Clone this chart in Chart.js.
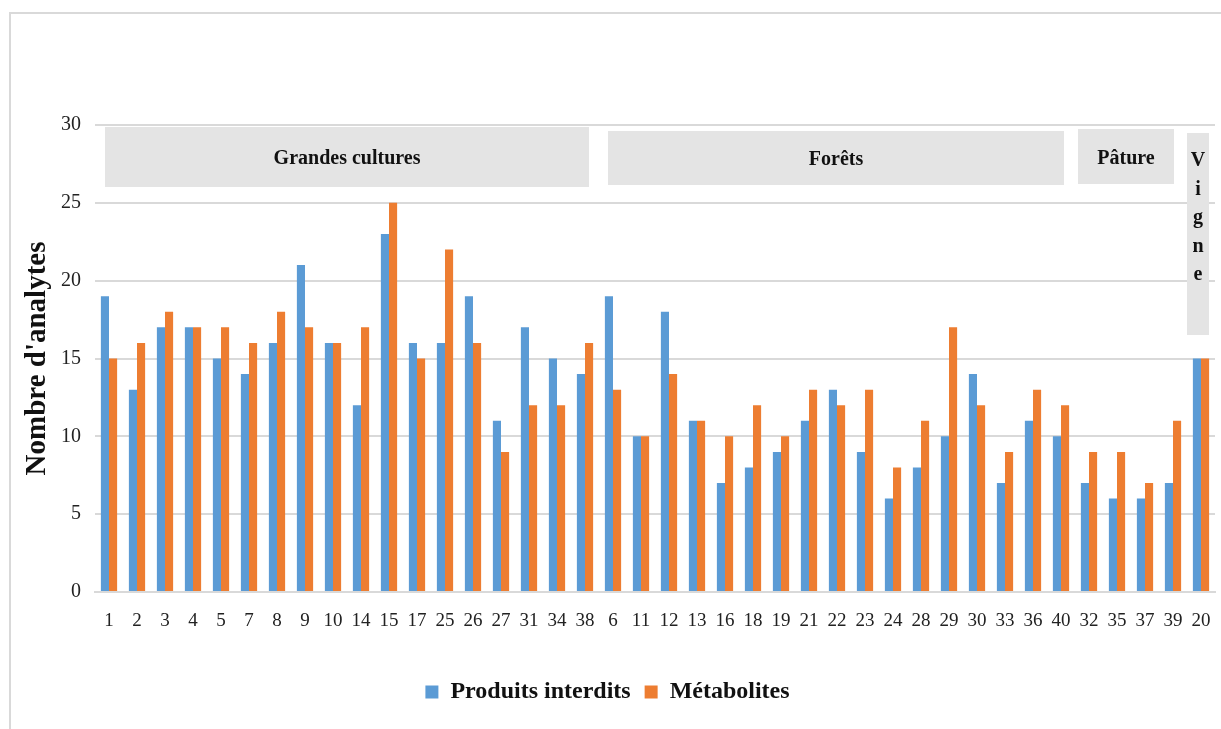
<!DOCTYPE html>
<html>
<head>
<meta charset="utf-8">
<script src="https://cdn.jsdelivr.net/npm/chart.js@4"></script>
<style>
  html, body { margin: 0; padding: 0; background: #fff; }
  #wrap { position: relative; width: 1221px; height: 729px; }
  #frame { position: absolute; left: 9px; top: 12px; right: 0; bottom: 0;
           border-top: 2px solid #d9d9d9; border-left: 2px solid #d9d9d9; }
  canvas { position: absolute; left: 0; top: 0; }
</style>
</head>
<body>
<div id="wrap">
  <div id="frame"></div>
  <canvas id="chart" width="1221" height="729"></canvas>
</div>
<script>
// Sites (x axis order as in the figure)
const sites = ['1','2','3','4','5','7','8','9','10','14','15','17','25','26','27','31','34','38',
               '6','11','12','13','16','18','19','21','22','23','24','28','29','30','33','36','40',
               '32','35','37','39','20'];
const produitsInterdits = [19,13,17,17,15,14,16,21,16,12,23,16,16,19,11,17,15,14,
                           19,10,18,11,7,8,9,11,13,9,6,8,10,14,7,11,10,
                           7,6,6,7,15];
const metabolites = [15,16,18,17,17,16,18,17,16,17,25,15,22,16,9,12,12,16,
                     13,10,14,11,10,12,10,13,12,13,8,11,17,12,9,13,12,
                     9,9,7,11,15];
// land-use groups: first and last category index
const groups = [
  { label: 'Grandes cultures', from: 0, to: 17 },
  { label: 'Forêts', from: 18, to: 34 },
  { label: 'Pâture', from: 35, to: 38 },
  { label: 'Vigne', from: 39, to: 39, vertical: true }
];
const yTicks = [0, 5, 10, 15, 20, 25, 30];

const serif = '"Liberation Serif", "Times New Roman", serif';

// group boxes drawn behind the bars
const groupBoxes = {
  id: 'groupBoxes',
  beforeDatasetsDraw(chart) {
    const { ctx, scales: { x } } = chart;
    const half = (x.getPixelForValue(1) - x.getPixelForValue(0)) / 2;
    const insets = [[10, 10, 127, 187], [9, 11, 131, 185], [3, 13, 129, 184], [0, 6, 133, 335]];
    ctx.save();
    groups.forEach((g, i) => {
      const [il, ir, top, bottom] = insets[i];
      const left = x.getPixelForValue(g.from) - half + il;
      const right = x.getPixelForValue(g.to) + half - ir;
      ctx.fillStyle = '#e4e4e4';
      ctx.fillRect(left, top, right - left, bottom - top);
      ctx.fillStyle = '#111';
      ctx.font = 'bold 20px ' + serif;
      ctx.textAlign = 'center';
      ctx.textBaseline = 'middle';
      const cx = (left + right) / 2;
      if (g.vertical) {
        g.label.split('').forEach((ch, k) => ctx.fillText(ch, cx, 161 + k * 28.5));
      } else {
        ctx.fillText(g.label, cx, (top + bottom) / 2 + 2);
      }
    });
    ctx.restore();
  }
};

new Chart(document.getElementById('chart').getContext('2d'), {
  type: 'bar',
  data: {
    labels: sites,
    datasets: [
      { label: 'Produits interdits', data: produitsInterdits, backgroundColor: '#5b9bd5' },
      { label: 'Métabolites', data: metabolites, backgroundColor: '#ed7d31' }
    ]
  },
  options: {
    responsive: false,
    animation: false,
    devicePixelRatio: 1,
    categoryPercentage: 0.58,
    barPercentage: 1,
    layout: { padding: { top: 125, right: 6, bottom: 15, left: 0 } },
    plugins: {
      legend: {
        position: 'bottom',
        labels: {
          color: '#111',
          font: { family: serif, size: 24, weight: 'bold' },
          boxWidth: 13,
          boxHeight: 13,
          padding: 14
        }
      },
      tooltip: { enabled: false }
    },
    scales: {
      x: {
        grid: { display: false, drawTicks: false },
        border: { color: '#d9d9d9', width: 2 },
        ticks: { color: '#222', font: { family: serif, size: 19 }, padding: 18, maxRotation: 0, autoSkip: false },
        afterFit(s) { s.height = 74; s.paddingLeft = 0; s.paddingRight = 0; }
      },
      y: {
        min: 0,
        max: 30,
        afterBuildTicks(s) { s.ticks = yTicks.map(v => ({ value: v })); },
        grid: { color: '#d9d9d9', lineWidth: 2, drawTicks: false },
        border: { display: false },
        ticks: { color: '#222', font: { family: serif, size: 20 }, padding: 14 },
        title: {
          display: true,
          text: "Nombre d'analytes",
          color: '#111',
          font: { family: serif, size: 29, weight: 'bold' },
          padding: { top: 20, bottom: 0 }
        },
        afterFit(s) { s.width = 95; }
      }
    }
  },
  plugins: [groupBoxes]
});
</script>
</body>
</html>
